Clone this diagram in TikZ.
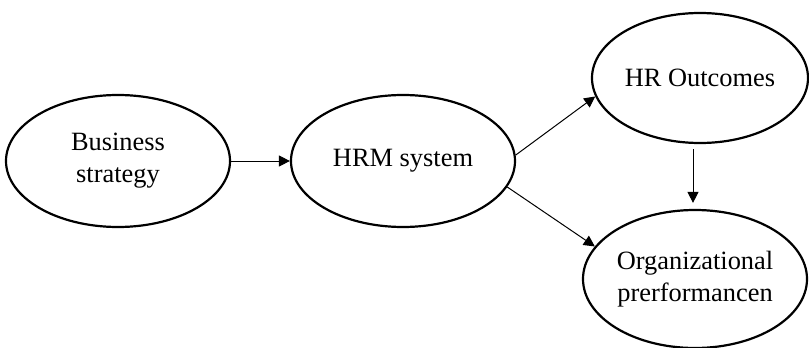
\documentclass[tikz,border=0pt]{standalone}
\usepackage{fontspec}
\setmainfont{Liberation Serif}
\usepackage{tikz}
\usetikzlibrary{shapes.geometric,arrows.meta,positioning}
\tikzset{
  ellbox/.style={ellipse, draw, line width=1.1pt, inner sep=0pt, minimum width=112pt, minimum height=66pt, align=center, font=\fontsize{13.2}{16}\selectfont},
  arrow/.style={-{Triangle[length=5.5pt, width=5.5pt]}, line width=0.5pt},
}
\begin{document}
\begin{tikzpicture}[x=0.5pt, y=-0.5pt]
  \useasboundingbox (0,0) rectangle (809,348);

  % Strategy and HRM
  \node[ellbox] (strategy) at (118,161) {Business\\strategy};
  \node[ellbox] (hrm) at (403,161) {HRM system};

  % Outcomes
  \node[ellbox, minimum width=108pt, minimum height=65pt] (outcomes) at (700,78) {HR Outcomes};
  \node[ellbox, minimum height=69pt] (perf) at (695,279) {Organizational\\prerformancen};

  % Connections
  \draw[arrow] (strategy) -- (hrm);
  \draw[arrow] (hrm.3) -- (outcomes.190);
  \draw[arrow] (hrm.-14) -- (perf.162);
  \draw[arrow, shorten <=2.5pt, shorten >=3pt] (outcomes.south -| 693,0) -- (perf.north -| 693,0);
\end{tikzpicture}
\end{document}
